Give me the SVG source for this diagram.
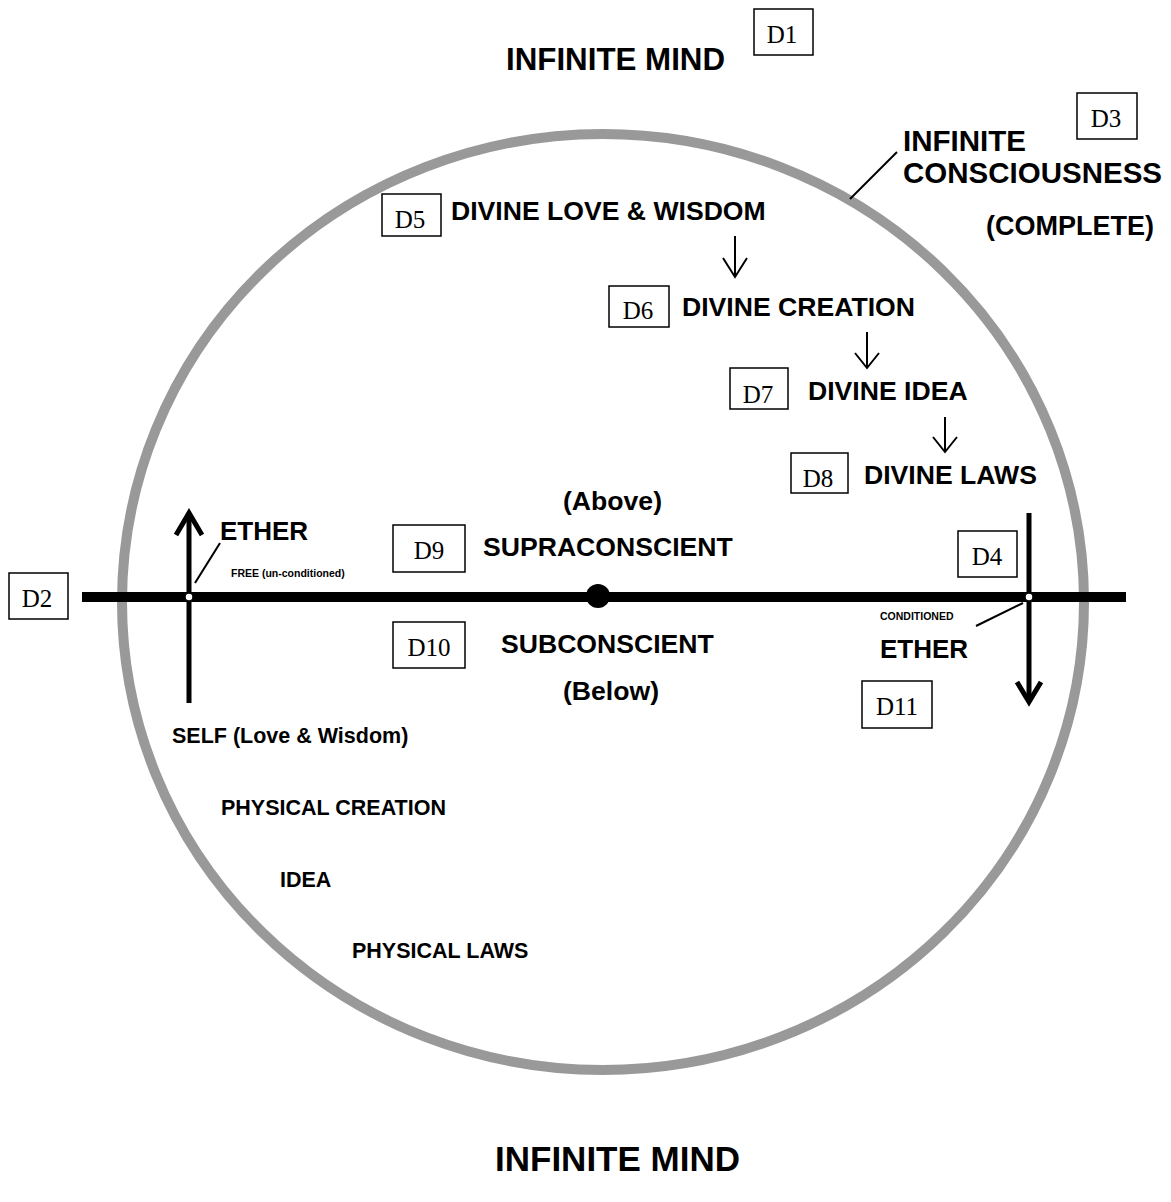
<svg xmlns="http://www.w3.org/2000/svg" width="1171" height="1202" viewBox="0 0 1171 1202">
<style>
.lbl{font-family:"Liberation Sans",Arial,sans-serif;font-weight:bold;fill:#000}
.box rect{fill:#fff;stroke:#000;stroke-width:1.5}
.box text{font-family:"Liberation Serif","Times New Roman",serif;font-size:25px;fill:#000;text-anchor:middle}
.thin{stroke:#000;stroke-width:2;fill:none}
.thick{stroke:#000;stroke-width:5;fill:none}
</style>
<rect width="1171" height="1202" fill="#fff"/>
<g id="circle">
<ellipse cx="603" cy="602" rx="481" ry="468" fill="none" stroke="#999" stroke-width="10"/>
</g>
<g id="connectors">
<line x1="82" y1="597" x2="1126" y2="597" stroke="#000" stroke-width="10"/>
<line class="thick" x1="189" y1="513" x2="189" y2="703"/>
<polyline class="thick" points="176,535 189,513 202,535"/>
<line class="thick" x1="1029" y1="513" x2="1029" y2="701"/>
<polyline class="thick" points="1017,682 1029,702 1041,682"/>
<circle cx="598" cy="596" r="12" fill="#000"/>
<circle cx="189" cy="597" r="4" fill="#fff" stroke="#000" stroke-width="1.5"/>
<circle cx="1029" cy="597" r="4" fill="#fff" stroke="#000" stroke-width="1.5"/>
<line class="thin" x1="195" y1="583" x2="220" y2="543"/>
<line class="thin" x1="1023" y1="603" x2="976" y2="626"/>
<line class="thin" x1="897" y1="152" x2="850" y2="199"/>
<line class="thin" x1="735" y1="236" x2="735" y2="277"/>
<polyline class="thin" points="723,258 735,277 747,258"/>
<line class="thin" x1="867" y1="332" x2="867" y2="368"/>
<polyline class="thin" points="855,353 867,368 879,353"/>
<line class="thin" x1="945" y1="417" x2="945" y2="452"/>
<polyline class="thin" points="933,437 945,452 957,437"/>
</g>
<g id="D1" class="box"><rect x="754" y="9" width="59" height="46"/><text x="782" y="43">D1</text></g>
<g id="D2" class="box"><rect x="9" y="573" width="59" height="46"/><text x="37" y="607">D2</text></g>
<g id="D3" class="box"><rect x="1077" y="93" width="60" height="46"/><text x="1106" y="127">D3</text></g>
<g id="D4" class="box"><rect x="958" y="531" width="59" height="46"/><text x="987" y="565">D4</text></g>
<g id="D5" class="box"><rect x="382" y="194" width="59" height="42"/><text x="410" y="228">D5</text></g>
<g id="D6" class="box"><rect x="609" y="286" width="60" height="41"/><text x="638" y="319">D6</text></g>
<g id="D7" class="box"><rect x="730" y="368" width="58" height="41"/><text x="758" y="403">D7</text></g>
<g id="D8" class="box"><rect x="791" y="453" width="57" height="40"/><text x="818" y="487">D8</text></g>
<g id="D9" class="box"><rect x="393" y="525" width="72" height="47"/><text x="429" y="559">D9</text></g>
<g id="D10" class="box"><rect x="393" y="622" width="72" height="46"/><text x="429" y="656">D10</text></g>
<g id="D11" class="box"><rect x="862" y="681" width="70" height="47"/><text x="897" y="715">D11</text></g>
<g id="infinite-mind-top"><text class="lbl" x="506" y="70" font-size="31.3">INFINITE MIND</text></g>
<g id="infinite-consciousness">
<text class="lbl" x="903" y="151" font-size="29.5">INFINITE</text>
<text class="lbl" x="903" y="183" font-size="29.5">CONSCIOUSNESS</text>
<text class="lbl" x="986" y="235" font-size="27">(COMPLETE)</text>
</g>
<g id="divine-love"><text class="lbl" x="451" y="220" font-size="26.6">DIVINE LOVE &amp; WISDOM</text></g>
<g id="divine-creation"><text class="lbl" x="682" y="316" font-size="26.6">DIVINE CREATION</text></g>
<g id="divine-idea"><text class="lbl" x="808" y="400" font-size="26.6">DIVINE IDEA</text></g>
<g id="divine-laws"><text class="lbl" x="864" y="484" font-size="26.6">DIVINE LAWS</text></g>
<g id="above"><text class="lbl" x="563" y="510" font-size="26.6">(Above)</text></g>
<g id="supraconscient"><text class="lbl" x="483" y="556" font-size="26.6">SUPRACONSCIENT</text></g>
<g id="subconscient"><text class="lbl" x="501" y="653" font-size="26.6">SUBCONSCIENT</text></g>
<g id="below"><text class="lbl" x="563" y="700" font-size="26.6">(Below)</text></g>
<g id="ether-left"><text class="lbl" x="220" y="540" font-size="26">ETHER</text>
<text class="lbl" x="231" y="577" font-size="10.5">FREE (un-conditioned)</text></g>
<g id="ether-right"><text class="lbl" x="880" y="658" font-size="26">ETHER</text>
<text class="lbl" x="880" y="620" font-size="10.5">CONDITIONED</text></g>
<g id="self"><text class="lbl" x="172" y="743" font-size="21.5">SELF (Love &amp; Wisdom)</text></g>
<g id="physical-creation"><text class="lbl" x="221" y="815" font-size="21.5">PHYSICAL CREATION</text></g>
<g id="idea"><text class="lbl" x="280" y="887" font-size="21.5">IDEA</text></g>
<g id="physical-laws"><text class="lbl" x="352" y="958" font-size="21.5">PHYSICAL LAWS</text></g>
<g id="infinite-mind-bottom"><text class="lbl" x="495" y="1171" font-size="35">INFINITE MIND</text></g>
</svg>
